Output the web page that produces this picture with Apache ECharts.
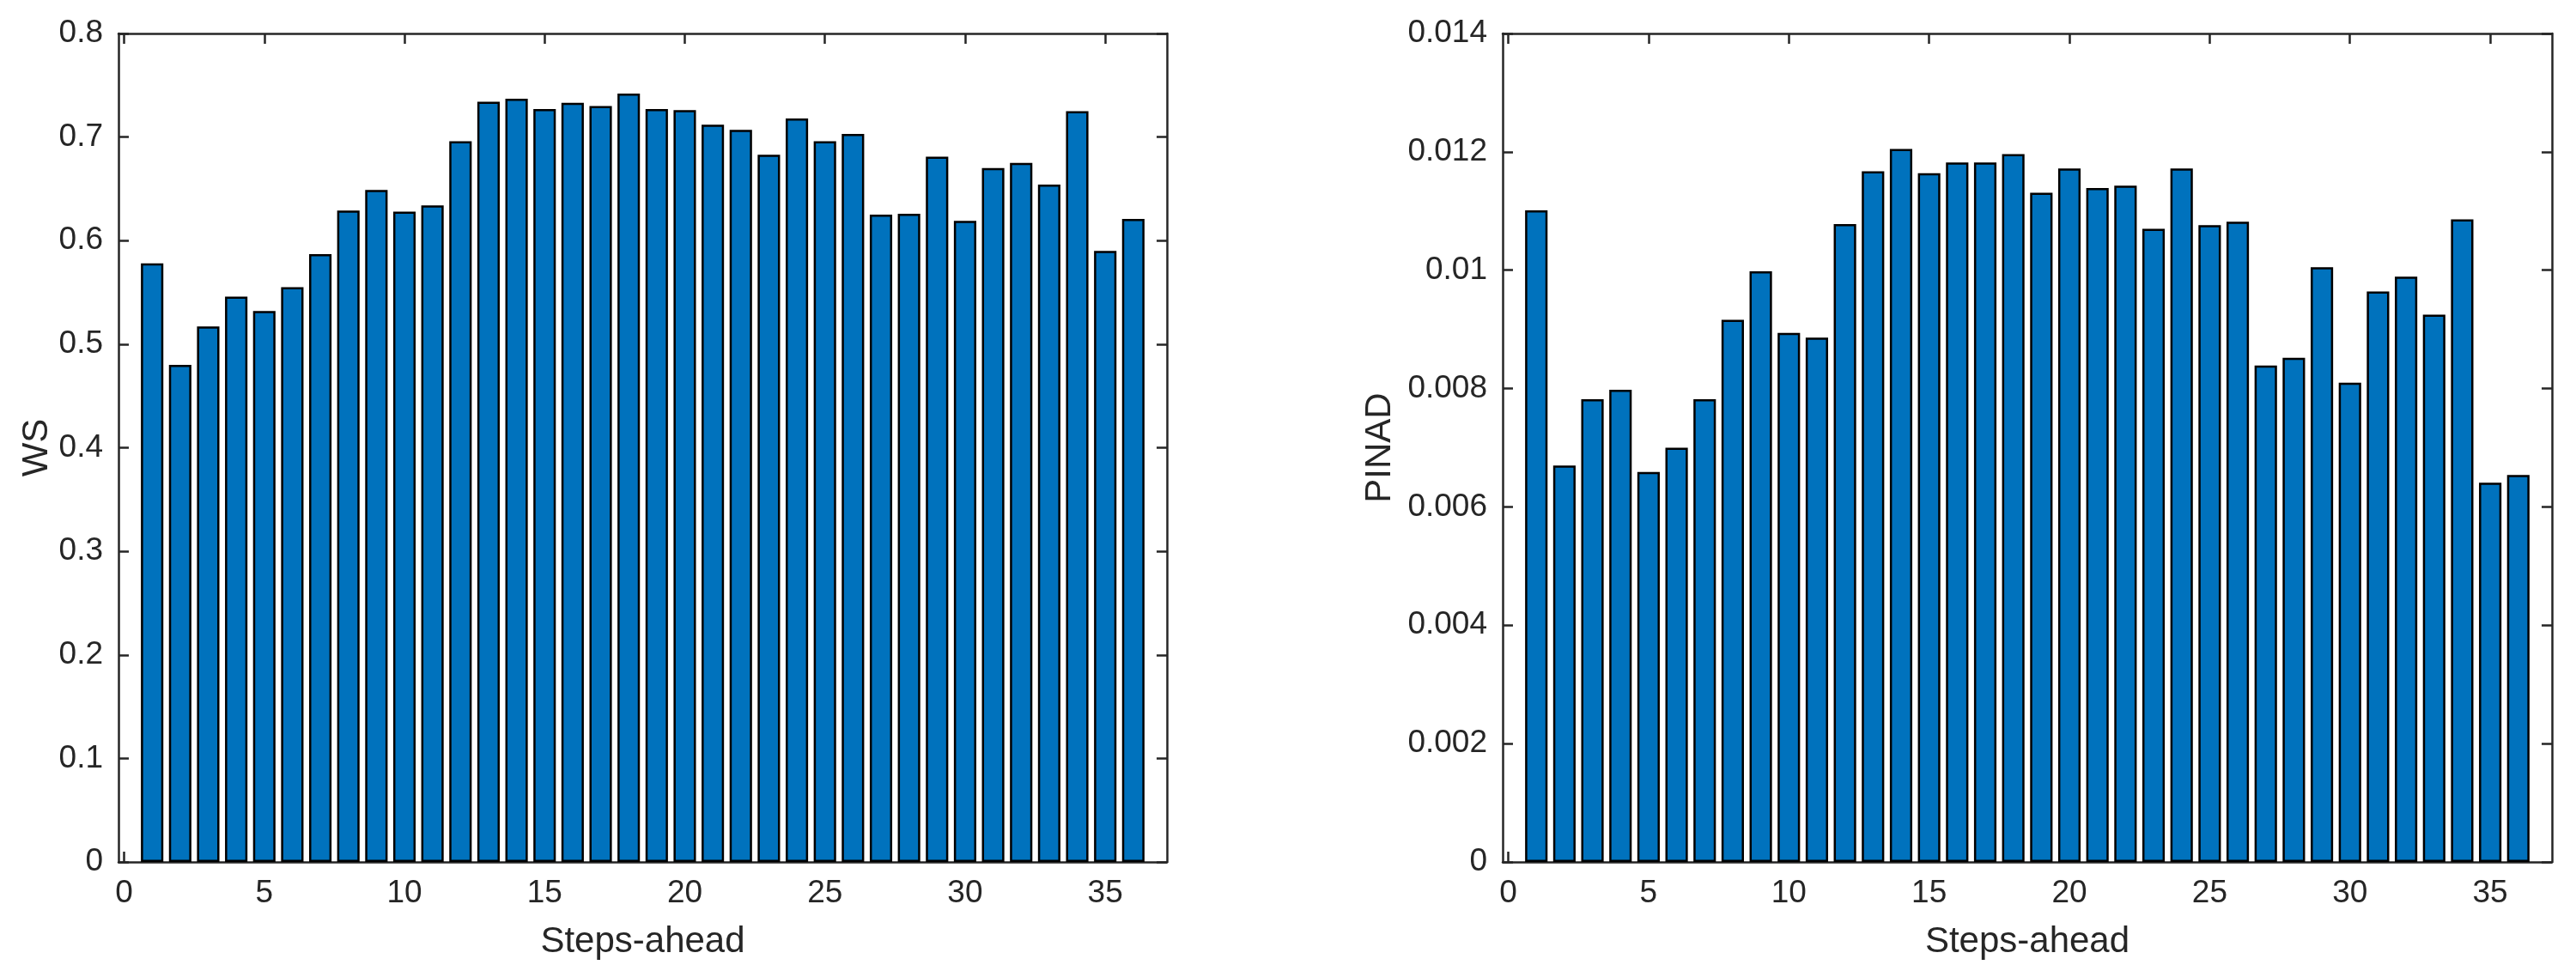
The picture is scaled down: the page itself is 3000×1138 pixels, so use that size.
<!DOCTYPE html>
<html>
<head>
<meta charset="utf-8">
<script src="https://cdn.jsdelivr.net/npm/echarts@6/dist/echarts.min.js"></script>
<style>
html,body{margin:0;padding:0;background:#fff;}
#chart{width:3000px;height:1138px;}
</style>
</head>
<body>
<div id="chart"></div>
<script>
const steps = [1,2,3,4,5,6,7,8,9,10,11,12,13,14,15,16,17,18,19,20,21,22,23,24,25,26,27,28,29,30,31,32,33,34,35,36];
const wsValues = [0.578,0.480,0.517,0.546,0.532,0.555,0.587,0.629,0.649,0.628,0.634,0.696,0.734,0.737,0.727,0.733,0.730,0.742,0.727,0.726,0.712,0.707,0.683,0.718,0.696,0.703,0.625,0.626,0.681,0.619,0.670,0.675,0.654,0.725,0.590,0.621];
const pinadValues = [0.01101,0.00670,0.00782,0.00798,0.00659,0.00700,0.00782,0.00916,0.00998,0.00894,0.00886,0.01078,0.01167,0.01205,0.01164,0.01182,0.01182,0.01196,0.01131,0.01172,0.01139,0.01143,0.01070,0.01172,0.01076,0.01082,0.00839,0.00852,0.01005,0.00810,0.00964,0.00989,0.00925,0.01086,0.00641,0.00654];
const xTicks = [0,5,10,15,20,25,30,35];
const wsTicks = [0,0.1,0.2,0.3,0.4,0.5,0.6,0.7,0.8];
const pinadTicks = [0,0.002,0.004,0.006,0.008,0.01,0.012,0.014];
const xLabelName = 'Steps-ahead';
const yNames = ['WS','PINAD'];

const AX = '#262626';
const FONT = 'Liberation Sans, Arial, Helvetica, sans-serif';
const fmt = v => String(+(+v).toFixed(4));

function xAxes(gi){
  const base = {
    type:'value', gridIndex:gi, min:-0.2, max:37.2,
    axisLine:{show:true,onZero:false,lineStyle:{color:AX,width:2.5}},
    splitLine:{show:false}
  };
  return [
    Object.assign({}, base, {
      position:'bottom',
      name:xLabelName, nameLocation:'middle', nameGap:72,
      nameTextStyle:{color:AX,fontSize:42,fontFamily:FONT},
      axisTick:{show:true,inside:true,length:12,customValues:xTicks,lineStyle:{color:AX,width:2.5}},
      axisLabel:{show:true,customValues:xTicks,margin:18,color:AX,fontSize:37,fontFamily:FONT,formatter:fmt}
    }),
    Object.assign({}, base, {
      position:'top',
      axisTick:{show:true,inside:true,length:12,customValues:xTicks,lineStyle:{color:AX,width:2.5}},
      axisLabel:{show:false}
    })
  ];
}
function yAxes(gi, ticks, name, gap){
  const base = {
    type:'value', gridIndex:gi, min:ticks[0], max:ticks[ticks.length-1],
    axisLine:{show:true,onZero:false,lineStyle:{color:AX,width:2.5}},
    splitLine:{show:false}
  };
  return [
    Object.assign({}, base, {
      position:'left',
      name:name, nameLocation:'middle', nameGap:gap, nameRotate:90,
      nameTextStyle:{color:AX,fontSize:42,fontFamily:FONT},
      axisTick:{show:true,inside:true,length:12,customValues:ticks,lineStyle:{color:AX,width:2.5}},
      axisLabel:{show:true,customValues:ticks,margin:18,color:AX,fontSize:37,fontFamily:FONT,formatter:fmt}
    }),
    Object.assign({}, base, {
      position:'right',
      axisTick:{show:true,inside:true,length:12,customValues:ticks,lineStyle:{color:AX,width:2.5}},
      axisLabel:{show:false}
    })
  ];
}

const chart = echarts.init(document.getElementById('chart'), null, {renderer:'canvas'});
const barStyle = {color:'#0072BD', borderColor:'#000', borderWidth:2.5};
chart.setOption({
  backgroundColor:'#fff',
  animation:false,
  grid:[
    {left:138, top:39, width:1221, height:965, outerBoundsMode:'none'},
    {left:1750, top:39, width:1222, height:965, outerBoundsMode:'none'}
  ],
  xAxis:[...xAxes(0), ...xAxes(1)],
  yAxis:[...yAxes(0, wsTicks, yNames[0], 70), ...yAxes(1, pinadTicks, yNames[1], 122)],
  series:[
    {type:'bar', xAxisIndex:0, yAxisIndex:0, barWidth:'80%', itemStyle:barStyle,
     data: steps.map((s,i)=>[s, wsValues[i]])},
    {type:'bar', xAxisIndex:2, yAxisIndex:2, barWidth:'80%', itemStyle:barStyle,
     data: steps.map((s,i)=>[s, pinadValues[i]])}
  ]
});
</script>
</body>
</html>
